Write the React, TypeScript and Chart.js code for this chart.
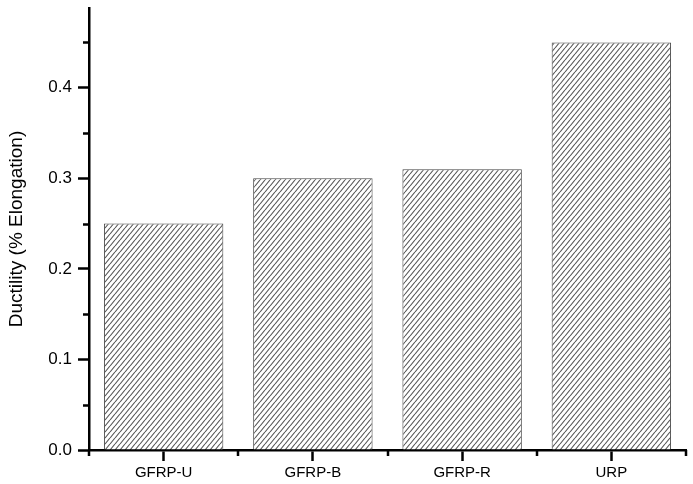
import React, { useEffect, useRef } from "react";
import { Chart, registerables } from "chart.js";

Chart.register(...registerables);

const categories = ["GFRP-U", "GFRP-B", "GFRP-R", "URP"];
const ductility = [0.25, 0.3, 0.31, 0.45];
const yTickValues = [0.0, 0.1, 0.2, 0.3, 0.4];
const yMinorValues = [0.05, 0.15, 0.25, 0.35, 0.45];
const axisTitle = "Ductility (% Elongation)";

const FONT = "'Liberation Sans', Arial, sans-serif";

// Diagonal hatch fill for the bars, rising to the right.
function makeHatch(): CanvasPattern | string {
  const w = 5;
  const h = 6;
  const tile = document.createElement("canvas");
  tile.width = w;
  tile.height = h;
  const c = tile.getContext("2d");
  if (!c) return "#aaa";
  c.fillStyle = "#ffffff";
  c.fillRect(0, 0, w, h);
  c.strokeStyle = "#555";
  c.lineWidth = 1.1;
  c.beginPath();
  for (let k = -1; k <= 1; k++) {
    c.moveTo(k * w, h);
    c.lineTo(k * w + w, 0);
  }
  c.stroke();
  const p = c.createPattern(tile, "repeat");
  return p || "#aaa";
}

// Short ticks half-way between the labelled ones, and at category edges.
const minorTicks = {
  id: "minorTicks",
  afterDraw(chart: any) {
    const { ctx, scales, chartArea } = chart;
    const y = scales.y;
    const x = scales.x;
    ctx.save();
    ctx.strokeStyle = "#000";
    ctx.lineWidth = 2.5;
    ctx.beginPath();
    for (const v of yMinorValues) {
      const py = Math.round(y.getPixelForValue(v)) + 0.5;
      ctx.moveTo(chartArea.left - 6, py);
      ctx.lineTo(chartArea.left, py);
    }
    for (let i = 0; i <= categories.length; i++) {
      const px = Math.round(x.getPixelForValue(i - 0.5));
      ctx.moveTo(px, chartArea.bottom);
      ctx.lineTo(px, chartArea.bottom + 6);
    }
    ctx.stroke();
    ctx.restore();
  },
};

export default function App() {
  const ref = useRef<HTMLCanvasElement | null>(null);

  useEffect(() => {
    document.body.style.margin = "0";
    if (!ref.current) return;
    const hatch = makeHatch();
    const chart = new Chart(ref.current, {
      type: "bar",
      data: {
        labels: categories,
        datasets: [
          {
            data: ductility,
            backgroundColor: hatch as any,
            borderColor: "#444",
            borderWidth: 1,
            categoryPercentage: 0.8,
            barPercentage: 1,
          },
        ],
      },
      options: {
        animation: false,
        responsive: false,
        devicePixelRatio: 1,
        layout: { padding: { top: 8, right: 7, left: 0, bottom: 0 } },
        plugins: {
          legend: { display: false },
          tooltip: { enabled: false },
        },
        scales: {
          x: {
            type: "category",
            offset: true,
            grid: {
              offset: false,
              drawOnChartArea: false,
              drawTicks: true,
              tickLength: 11,
              tickWidth: 2.5,
              tickColor: "#000",
            },
            border: { display: true, color: "#000", width: 2.5 },
            ticks: {
              color: "#000",
              font: { family: FONT, size: 15 },
              padding: 3,
              maxRotation: 0,
            },
            afterFit(scale: any) {
              scale.height = 34;
              scale.paddingLeft = 0;
              scale.paddingRight = 0;
            },
          },
          y: {
            min: 0,
            max: 0.488,
            afterBuildTicks(scale: any) {
              scale.ticks = yTickValues.map((v) => ({ value: v }));
            },
            grid: {
              drawOnChartArea: false,
              drawTicks: true,
              tickLength: 11,
              tickWidth: 2.5,
              tickColor: "#000",
            },
            border: { display: true, color: "#000", width: 2.5 },
            ticks: {
              color: "#000",
              font: { family: FONT, size: 17 },
              padding: 6,
              callback: (v: any) => Number(v).toFixed(1),
            },
            title: {
              display: true,
              text: axisTitle,
              color: "#000",
              font: { family: FONT, size: 19 },
              padding: { top: 5, bottom: 8 },
            },
            afterFit(scale: any) {
              scale.width = 89;
              scale.paddingTop = 0;
              scale.paddingBottom = 0;
            },
          },
        },
      },
      plugins: [minorTicks],
    });
    return () => chart.destroy();
  }, []);

  return (
    <div style={{ position: "absolute", left: 0, top: 0, width: 693, height: 484, background: "#fff" }}>
      <canvas ref={ref} width={693} height={484} />
    </div>
  );
}
